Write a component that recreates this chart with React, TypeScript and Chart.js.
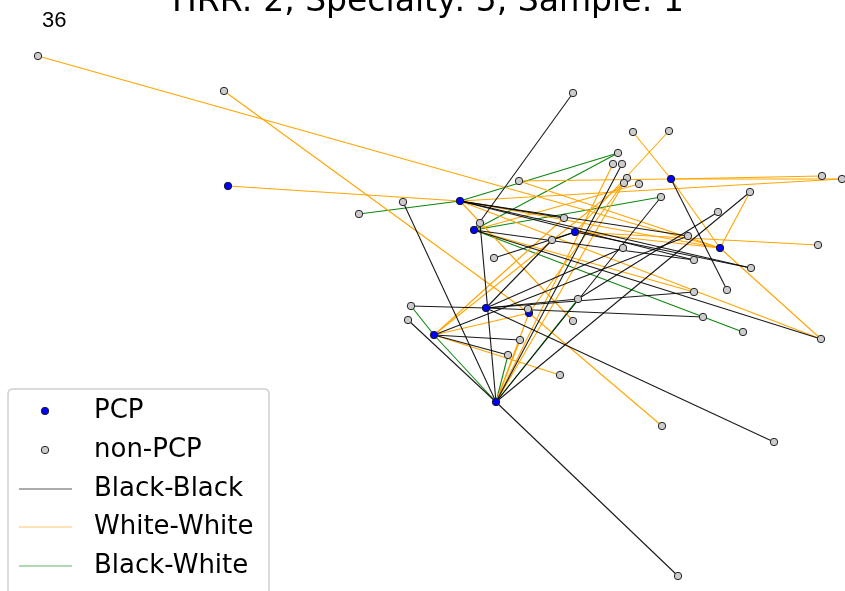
import React, { useEffect, useRef } from "react";
import { Chart, registerables } from "chart.js";

Chart.register(...registerables);

// ---- data (layout positions) ----
const pcpX = [228, 460, 474, 575, 671, 720, 486, 529, 434, 496];
const pcpY = [186, 201, 230, 232, 179, 248, 308, 313, 335, 402];

const otherX = [38, 224, 573, 633, 669, 618, 613, 622, 519, 627, 624, 639, 661, 822, 842, 750, 403, 359, 718, 480, 564, 552, 688, 818, 623, 494, 694, 751, 727, 694, 578, 411, 528, 408, 703, 573, 743, 821, 520, 508, 560, 662, 774, 678];
const otherY = [56, 91, 93, 132, 131, 153, 164, 164, 181, 178, 183, 184, 197, 176, 179, 192, 202, 214, 212, 223, 218, 240, 236, 245, 248, 258, 260, 268, 290, 292, 299, 306, 309, 320, 317, 321, 332, 339, 340, 355, 375, 426, 442, 576];

// edges: "P#" = PCP node index, "N#" = non-PCP node index
const blackEdges: [string, string][] = [
  ["N2", "P2"], ["N16", "P9"], ["N19", "P9"], ["P1", "N20"], ["P1", "N22"], ["P1", "N26"], ["P1", "N27"],
  ["P2", "N26"], ["P2", "N37"], ["P3", "N27"], ["N25", "P3"], ["P3", "N21"], ["P4", "N28"], ["P9", "N7"],
  ["P9", "N12"], ["P9", "N15"], ["P9", "N43"], ["P9", "N33"], ["P6", "N24"], ["P6", "N34"], ["P6", "N29"],
  ["P6", "N30"], ["P6", "N42"], ["P6", "N31"], ["P6", "N21"], ["N18", "N30"], ["P8", "N38"], ["P8", "N39"],
  ["P8", "N22"],
];
const orangeEdges: [string, string][] = [
  ["N0", "P5"], ["N1", "P7"], ["P0", "P1"], ["P1", "N14"], ["P1", "P5"], ["P1", "N37"], ["P1", "N35"],
  ["N8", "P4"], ["N8", "P5"], ["P4", "N13"], ["P4", "N14"], ["P4", "N3"], ["P4", "P5"], ["P5", "N15"],
  ["P5", "N37"], ["P3", "N23"], ["P3", "P5"], ["N4", "P3"], ["P9", "N6"], ["P9", "N38"], ["P9", "P7"],
  ["P9", "N10"], ["P8", "P7"], ["P8", "N40"], ["P8", "N20"], ["P2", "N11"], ["P2", "N29"], ["P7", "N9"],
  ["P8", "N10"], ["P7", "N41"],
];
const greenEdges: [string, string][] = [
  ["P1", "N17"], ["P1", "N5"], ["P2", "N5"], ["P2", "N12"], ["P2", "N36"], ["P8", "N31"], ["P8", "P9"],
  ["P9", "N39"], ["P9", "N30"],
];

const titleText = "HRR: 2, Specialty: 5, Sample: 1";
const cornerLabel = "36";
const nodeLabels = ["PCP", "non-PCP"];
const edgeLabels = ["Black-Black", "White-White", "Black-White"];

const W = 845;
const H = 591;
const FONT = '"DejaVu Sans", "Liberation Sans", sans-serif';

const EDGE_COLORS = ["rgba(0,0,0,0.9)", "rgba(255,165,0,1)", "rgba(0,128,0,0.95)"];
const LEGEND_LINE_COLORS = ["rgba(0,0,0,0.65)", "rgba(255,165,0,0.6)", "rgba(0,128,0,0.6)"];

function pos(id: string) {
  const i = parseInt(id.slice(1), 10);
  return id[0] === "P" ? { x: pcpX[i], y: pcpY[i] } : { x: otherX[i], y: otherY[i] };
}

const overlayPlugin = {
  id: "overlay",
  afterDraw(chart: any) {
    const ctx = chart.ctx as CanvasRenderingContext2D;
    ctx.save();
    // title (mostly cut by the top edge)
    ctx.fillStyle = "#000";
    ctx.font = `33px ${FONT}`;
    ctx.textAlign = "center";
    ctx.textBaseline = "alphabetic";
    ctx.fillText(titleText, 428, 11);
    // corner label
    ctx.font = `22px "Liberation Sans", Arial, sans-serif`;
    ctx.textAlign = "left";
    ctx.fillText(cornerLabel, 42, 27);

    // legend box
    const bx = 8, by = 389, bw = 261, bh = 220, r = 5;
    ctx.beginPath();
    ctx.moveTo(bx + r, by);
    ctx.lineTo(bx + bw - r, by);
    ctx.quadraticCurveTo(bx + bw, by, bx + bw, by + r);
    ctx.lineTo(bx + bw, by + bh);
    ctx.lineTo(bx, by + bh);
    ctx.lineTo(bx, by + r);
    ctx.quadraticCurveTo(bx, by, bx + r, by);
    ctx.closePath();
    ctx.fillStyle = "rgba(255,255,255,0.85)";
    ctx.fill();
    ctx.strokeStyle = "#d0d0d0";
    ctx.lineWidth = 1.5;
    ctx.stroke();

    const rows = [411, 450, 489, 527, 566];
    ctx.font = `26px ${FONT}`;
    ctx.textBaseline = "middle";
    ctx.fillStyle = "#000";
    const fills = ["#0000ff", "#cccccc"];
    for (let k = 0; k < 2; k++) {
      ctx.beginPath();
      ctx.arc(45, rows[k], 3.7, 0, Math.PI * 2);
      ctx.fillStyle = fills[k];
      ctx.fill();
      ctx.strokeStyle = "#222";
      ctx.lineWidth = 1;
      ctx.stroke();
      ctx.fillStyle = "#000";
      ctx.fillText(nodeLabels[k], 94, rows[k]);
    }
    for (let k = 0; k < 3; k++) {
      const y = rows[k + 2];
      ctx.beginPath();
      ctx.moveTo(19, y);
      ctx.lineTo(72, y);
      ctx.strokeStyle = LEGEND_LINE_COLORS[k];
      ctx.lineWidth = 1.2;
      ctx.stroke();
      ctx.fillStyle = "#000";
      ctx.fillText(edgeLabels[k], 94, y);
    }
    ctx.restore();
  },
};

export default function App() {
  const ref = useRef<HTMLCanvasElement | null>(null);

  useEffect(() => {
    const canvas = ref.current;
    if (!canvas) return;
    const edgeSets: [string, string][][] = [blackEdges, orangeEdges, greenEdges];
    const datasets: any[] = [];
    edgeSets.forEach((list, ci) => {
      list.forEach(([a, b]) => {
        datasets.push({
          data: [pos(a), pos(b)],
          showLine: true,
          borderColor: EDGE_COLORS[ci],
          borderWidth: 1.1,
          pointRadius: 0,
          pointHoverRadius: 0,
          order: 3,
          clip: false,
        });
      });
    });
    datasets.push({
      label: nodeLabels[0],
      data: pcpX.map((x, i) => ({ x, y: pcpY[i] })),
      pointRadius: 3.7,
      pointBackgroundColor: "#0000ff",
      pointBorderColor: "#1a1a1a",
      pointBorderWidth: 1,
      showLine: false,
      order: 2,
      clip: false,
    });
    datasets.push({
      label: nodeLabels[1],
      data: otherX.map((x, i) => ({ x, y: otherY[i] })),
      pointRadius: 3.7,
      pointBackgroundColor: "#cccccc",
      pointBorderColor: "#222222",
      pointBorderWidth: 1,
      showLine: false,
      order: 1,
      clip: false,
    });

    const chart = new Chart(canvas, {
      type: "scatter",
      data: { datasets },
      options: {
        animation: false,
        responsive: false,
        maintainAspectRatio: false,
        layout: { padding: 0, autoPadding: false },
        events: [],
        scales: {
          x: { type: "linear", min: 0, max: W, display: false },
          y: { type: "linear", min: 0, max: H, reverse: true, display: false },
        },
        plugins: {
          legend: { display: false },
          tooltip: { enabled: false },
          title: { display: false },
        },
      },
      plugins: [overlayPlugin],
    });
    return () => chart.destroy();
  }, []);

  return (
    <div style={{ position: "fixed", left: 0, top: 0, width: W, height: H, background: "#fff" }}>
      <canvas ref={ref} width={W} height={H} style={{ width: W, height: H, display: "block" }} />
    </div>
  );
}
